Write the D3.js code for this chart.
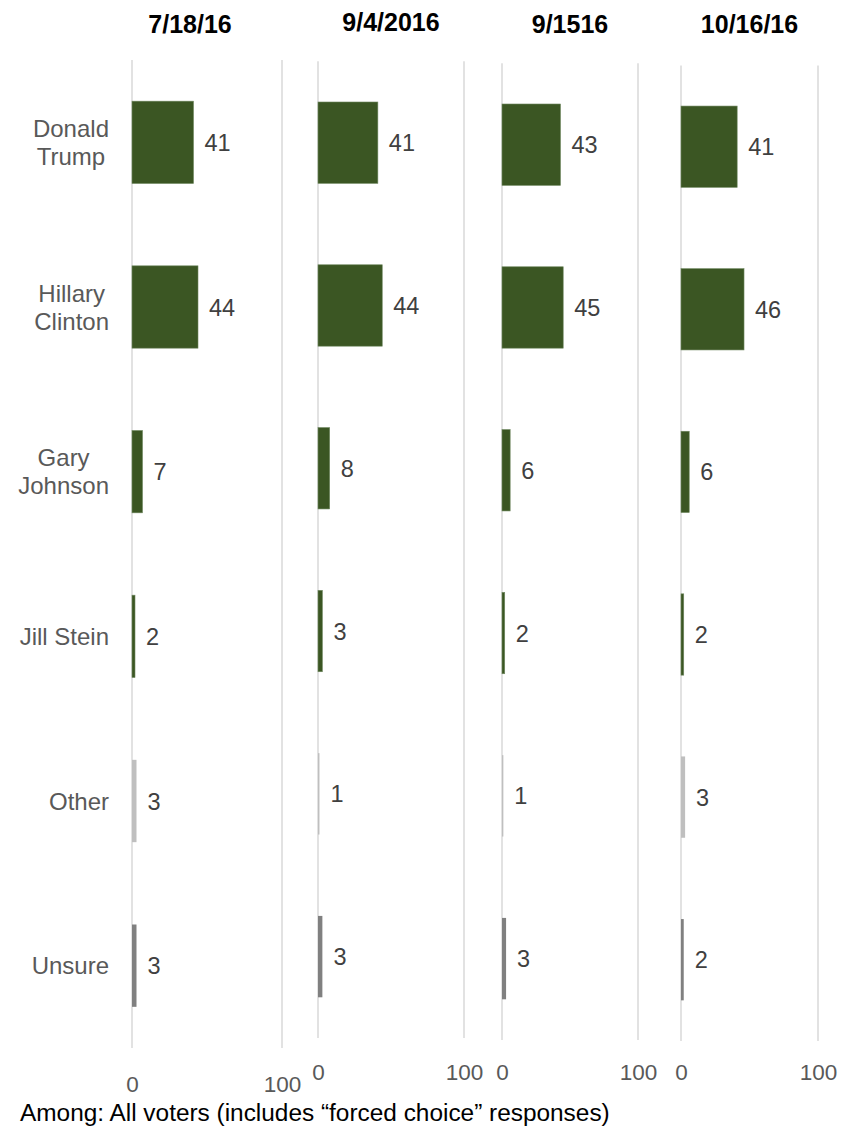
<!DOCTYPE html>
<html>
<head>
<meta charset="utf-8">
<script src="https://cdn.jsdelivr.net/npm/d3@7"></script>
<style>
  html, body { margin: 0; padding: 0; background: #ffffff; }
  svg { display: block; font-family: Arial, "Liberation Sans", sans-serif; }
</style>
</head>
<body>
<svg id="chart" width="841" height="1135"></svg>
<script>
// Poll dates (one panel each)
const pollDates = ["7/18/16", "9/4/2016", "9/1516", "10/16/16"];

// Candidates, top to bottom
const candidates = ["Donald Trump", "Hillary Clinton", "Gary Johnson", "Jill Stein", "Other", "Unsure"];
const candidateLines = [["Donald", "Trump"], ["Hillary", "Clinton"], ["Gary", "Johnson"], ["Jill Stein"], ["Other"], ["Unsure"]];

// Support (%) for each candidate, one value per poll date
const trump   = [41, 41, 43, 41];
const clinton = [44, 44, 45, 46];
const johnson = [7, 8, 6, 6];
const stein   = [2, 3, 2, 2];
const other   = [3, 1, 1, 3];
const unsure  = [3, 3, 3, 2];

// Axis tick labels
const tickValues = [0, 100];

const seriesByCandidate = [trump, clinton, johnson, stein, other, unsure];
const barColors = ["#3b5623", "#3b5623", "#3b5623", "#3b5623", "#bfbfbf", "#808080"];

// Panel layout: horizontal extent of the 0–100 axis and vertical extent of the bands
const panels = [
  { x0: 132, x1: 282, top: 60.0, bottom: 1048, titleY: 33, tickY: 1092 },
  { x0: 318, x1: 464, top: 61.3, bottom: 1038, titleY: 31, tickY: 1080 },
  { x0: 502, x1: 638, top: 63.3, bottom: 1040, titleY: 33, tickY: 1080 },
  { x0: 681, x1: 818, top: 65.4, bottom: 1041, titleY: 33, tickY: 1080 }
];

const svg = d3.select("#chart");

panels.forEach((p, i) => {
  const g = svg.append("g");
  const x = d3.scaleLinear().domain([0, 100]).range([p.x0, p.x1]);
  const y = d3.scaleBand().domain(candidates).range([p.top, p.bottom])
    .paddingInner(0.5).paddingOuter(0.25);

  // Vertical grid lines at 0 and 100
  g.selectAll("line.grid").data(tickValues).join("line")
    .attr("class", "grid")
    .attr("x1", d => x(d)).attr("x2", d => x(d))
    .attr("y1", p.top).attr("y2", p.bottom)
    .attr("stroke", "#d9d9d9").attr("stroke-width", 1.5);

  // Bottom axis tick labels (no domain line, no ticks)
  const axis = d3.axisBottom(x).tickValues(tickValues).tickSize(0).tickFormat(d3.format("d"));
  const ax = g.append("g").attr("transform", `translate(0,${p.tickY - 17})`).call(axis);
  ax.select(".domain").remove();
  ax.selectAll("text")
    .attr("dy", 0).attr("y", 17)
    .attr("font-size", 22.5).attr("fill", "#595959")
    .attr("font-family", "Arial, 'Liberation Sans', sans-serif");

  // Panel title
  g.append("text")
    .attr("x", (p.x0 + p.x1) / 2 - (i === 0 ? 17 : 0))
    .attr("y", p.titleY)
    .attr("text-anchor", "middle")
    .attr("font-size", 25).attr("font-weight", "bold").attr("fill", "#000")
    .text(pollDates[i]);

  const rows = candidates.map((c, k) => ({ name: c, value: seriesByCandidate[k][i], color: barColors[k] }));

  // Bars
  g.selectAll("rect.bar").data(rows).join("rect")
    .attr("class", "bar")
    .attr("x", x(0))
    .attr("y", d => y(d.name))
    .attr("width", d => x(d.value) - x(0))
    .attr("height", y.bandwidth())
    .attr("fill", d => d.color)
    .attr("stroke", d => d.color === "#3b5623" ? "#6f8860" : "none")
    .attr("stroke-width", 0.6);

  // Value labels
  g.selectAll("text.val").data(rows).join("text")
    .attr("class", "val")
    .attr("x", d => x(d.value) + 11)
    .attr("y", d => y(d.name) + y.bandwidth() / 2 + 8.5)
    .attr("font-size", 23.5).attr("fill", "#404040")
    .text(d => d.value);

  // Category labels, drawn once beside the first panel
  if (i === 0) {
    const rightEdge = 109;
    candidateLines.forEach((lines, k) => {
      const cy = y(candidates[k]) + y.bandwidth() / 2;
      const lh = 28;
      const t = g.append("text")
        .attr("font-size", 24).attr("fill", "#595959").attr("text-anchor", "middle");
      const spans = lines.map((ln, j) => t.append("tspan")
        .attr("y", cy + (j - (lines.length - 1) / 2) * lh + 8.5)
        .text(ln));
      const widest = d3.max(spans, s => s.node().getComputedTextLength());
      spans.forEach(s => s.attr("x", rightEdge - widest / 2));
    });
  }
});

// Footnote
svg.append("text")
  .attr("x", 20).attr("y", 1121)
  .attr("font-size", 24.4).attr("fill", "#000")
  .text("Among: All voters (includes \u201cforced choice\u201d responses)");
</script>
</body>
</html>
